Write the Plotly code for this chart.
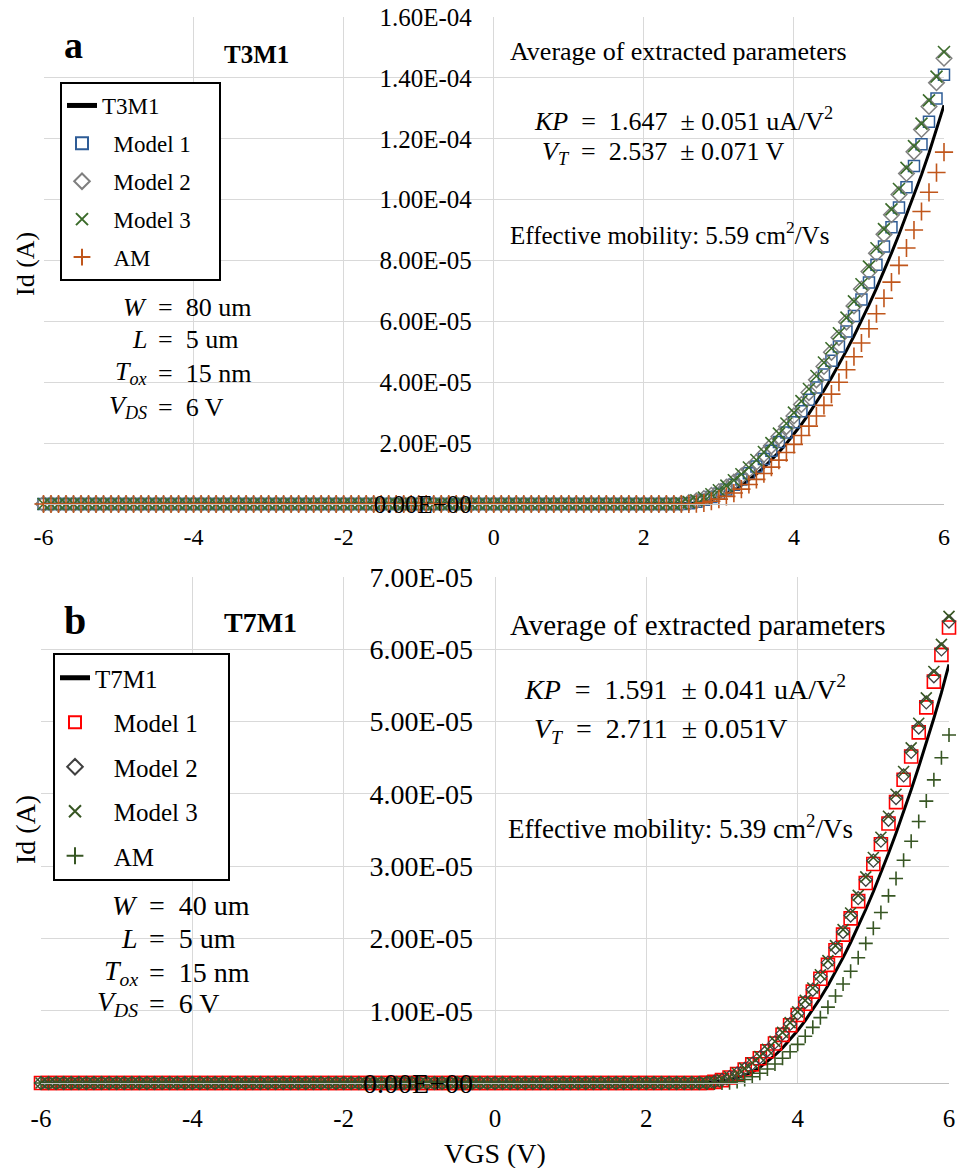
import plotly.graph_objects as go

FONT = "Liberation Serif"
W, H = 965, 1168

# ---------------- data (Id in uA) ----------------
vgs_off = [
    -6.0, -5.9, -5.8, -5.7, -5.6, -5.5, -5.4, -5.3, -5.2, -5.1,
    -5.0, -4.9, -4.8, -4.7, -4.6, -4.5, -4.4, -4.3, -4.2, -4.1,
    -4.0, -3.9, -3.8, -3.7, -3.6, -3.5, -3.4, -3.3, -3.2, -3.1,
    -3.0, -2.9, -2.8, -2.7, -2.6, -2.5, -2.4, -2.3, -2.2, -2.1,
    -2.0, -1.9, -1.8, -1.7, -1.6, -1.5, -1.4, -1.3, -1.2, -1.1,
    -1.0, -0.9, -0.8, -0.7, -0.6, -0.5, -0.4, -0.3, -0.2, -0.1,
    0.0, 0.1, 0.2, 0.3, 0.4, 0.5, 0.6, 0.7, 0.8, 0.9,
    1.0, 1.1, 1.2, 1.3, 1.4, 1.5, 1.6, 1.7, 1.8, 1.9,
    2.0, 2.1, 2.2, 2.3,
]
id_off = [
    0, 0, 0, 0, 0, 0, 0, 0, 0, 0,
    0, 0, 0, 0, 0, 0, 0, 0, 0, 0,
    0, 0, 0, 0, 0, 0, 0, 0, 0, 0,
    0, 0, 0, 0, 0, 0, 0, 0, 0, 0,
    0, 0, 0, 0, 0, 0, 0, 0, 0, 0,
    0, 0, 0, 0, 0, 0, 0, 0, 0, 0,
    0, 0, 0, 0, 0, 0, 0, 0, 0, 0,
    0, 0, 0, 0, 0, 0, 0, 0, 0, 0,
    0, 0, 0, 0,
]
vgs_on = [
    2.4, 2.5, 2.6, 2.7, 2.8, 2.9, 3.0, 3.1, 3.2, 3.3,
    3.4, 3.5, 3.6, 3.7, 3.8, 3.9, 4.0, 4.1, 4.2, 4.3,
    4.4, 4.5, 4.6, 4.7, 4.8, 4.9, 5.0, 5.1, 5.2, 5.3,
    5.4, 5.5, 5.6, 5.7, 5.8, 5.9, 6.0,
]

# panel a : T3M1
a_meas = [0.02, 0.06, 0.15, 0.35, 0.75, 1.34, 2.21, 3.30, 4.61, 6.13,
          7.88, 9.84, 12.02, 14.42, 17.03, 19.87, 22.92, 26.19, 29.68, 33.38,
          37.31, 41.45, 45.81, 50.39, 55.18, 60.20, 65.43, 70.88, 76.55, 82.43,
          88.54, 94.86, 101.40, 108.16, 115.30, 123.00, 131.00]
a_m1 = [0, 0.03, 0.25, 0.70, 1.37, 2.27, 3.38, 4.73, 6.29, 8.08,
        10.10, 12.34, 14.80, 17.48, 20.39, 23.53, 26.88, 30.46, 34.27, 38.30,
        42.55, 47.03, 51.73, 56.65, 61.80, 67.17, 72.76, 78.58, 84.62, 90.89,
        97.38, 104.10, 111.03, 118.19, 125.58, 133.19, 141.02]
a_m2 = [0, 0.11, 0.45, 1.02, 1.81, 2.83, 4.07, 5.54, 7.23, 9.15,
        11.30, 13.67, 16.27, 19.10, 22.15, 25.43, 28.93, 32.66, 36.61, 40.79,
        45.20, 49.83, 54.69, 59.78, 65.09, 70.63, 76.39, 82.38, 88.59, 95.03,
        101.70, 108.59, 115.71, 123.06, 130.63, 138.43, 146.45]
a_m3 = [0.01, 0.20, 0.61, 1.25, 2.11, 3.20, 4.51, 6.04, 7.81, 9.79,
        12.00, 14.44, 17.10, 19.99, 23.10, 26.44, 30.00, 33.79, 37.80, 42.04,
        46.50, 51.18, 56.10, 61.23, 66.59, 72.18, 77.99, 84.03, 90.29, 96.78,
        103.49, 110.43, 117.59, 124.98, 132.59, 140.42, 148.49]
a_am = [0, 0, 0, 0.10, 0.40, 0.90, 1.60, 2.50, 3.60, 4.90,
        6.40, 8.10, 10.00, 12.10, 14.40, 16.90, 19.60, 22.50, 25.60, 28.90,
        32.40, 36.10, 40.00, 44.10, 48.40, 52.90, 57.60, 62.50, 67.60, 72.90,
        78.40, 84.10, 90.00, 96.10, 102.40, 108.90, 115.60]

# panel b : T7M1
b_meas = [0, 0, 0, 0.02, 0.06, 0.15, 0.25, 0.45, 0.72, 1.08,
          1.50, 2.16, 2.94, 3.84, 4.86, 6.00, 7.26, 8.64, 10.14, 11.76,
          13.50, 15.36, 17.34, 19.44, 21.66, 24.00, 26.46, 29.04, 31.74, 34.56,
          37.50, 40.56, 43.74, 47.04, 50.46, 54.00, 57.90]
b_m1 = [0, 0, 0, 0, 0.02, 0.15, 0.40, 0.77, 1.25, 1.86,
        2.58, 3.43, 4.39, 5.47, 6.66, 7.98, 9.41, 10.97, 12.64, 14.43,
        16.34, 18.37, 20.52, 22.78, 25.16, 27.67, 30.29, 33.03, 35.89, 38.86,
        41.96, 45.17, 48.50, 51.96, 55.53, 59.22, 63.02]
b_m2 = [0, 0, 0, 0, 0.03, 0.17, 0.44, 0.82, 1.32, 1.94,
        2.68, 3.54, 4.52, 5.62, 6.84, 8.17, 9.63, 11.21, 12.90, 14.72,
        16.65, 18.70, 20.88, 23.17, 25.58, 28.11, 30.76, 33.53, 36.42, 39.43,
        42.56, 45.81, 49.17, 52.66, 56.27, 59.99, 63.84]
b_m3 = [0, 0, 0, 0, 0.04, 0.19, 0.47, 0.87, 1.38, 2.02,
        2.77, 3.65, 4.65, 5.76, 7.00, 8.35, 9.83, 11.43, 13.14, 14.98,
        16.93, 19.01, 21.21, 23.52, 25.96, 28.51, 31.19, 33.99, 36.90, 39.94,
        43.09, 46.37, 49.77, 53.28, 56.92, 60.67, 64.55]
b_am = [0, 0, 0, 0, 0, 0, 0, 0.05, 0.21, 0.48,
        0.86, 1.34, 1.93, 2.62, 3.42, 4.33, 5.35, 6.47, 7.70, 9.04,
        10.49, 12.04, 13.70, 15.46, 17.33, 19.31, 21.40, 23.59, 25.89, 28.30,
        30.82, 33.44, 36.17, 39.00, 41.94, 44.99, 48.15]

x_tick_vals = [-6, -4, -2, 0, 2, 4, 6]
x_tick_text = ["-6", "-4", "-2", "0", "2", "4", "6"]
a_y_tick_vals = [0, 2e-5, 4e-5, 6e-5, 8e-5, 1e-4, 1.2e-4, 1.4e-4, 1.6e-4]
a_y_tick_text = ["0.00E+00", "2.00E-05", "4.00E-05", "6.00E-05", "8.00E-05",
                 "1.00E-04", "1.20E-04", "1.40E-04", "1.60E-04"]
b_y_tick_vals = [0, 1e-5, 2e-5, 3e-5, 4e-5, 5e-5, 6e-5, 7e-5]
b_y_tick_text = ["0.00E+00", "1.00E-05", "2.00E-05", "3.00E-05", "4.00E-05",
                 "5.00E-05", "6.00E-05", "7.00E-05"]

vgs = vgs_off + vgs_on
NB = "\u00a0"


def amps(on_values):
    return [v * 1e-6 for v in id_off + on_values]


def px(x):
    return x / W


def py(y):
    return 1 - y / H


def lname(s, pre=2, post=4):
    return NB * pre + s + NB * post


fig = go.Figure()

# ---------- panel a traces ----------
fig.add_trace(go.Scatter(x=vgs, y=amps(a_meas), mode="lines", name=lname("T3M1", 0),
                         line=dict(color="black", width=3), xaxis="x", yaxis="y",
                         legend="legend", legendgroup="a1", cliponaxis=False))
fig.add_trace(go.Scatter(x=vgs, y=amps(a_m1), mode="markers", name=lname("Model 1"),
                         marker=dict(symbol="square-open", size=11, color="#2E5C96",
                                     line=dict(width=1.5, color="#2E5C96")),
                         xaxis="x", yaxis="y", legend="legend", legendgroup="a2",
                         cliponaxis=False))
fig.add_trace(go.Scatter(x=vgs, y=amps(a_m2), mode="markers", name=lname("Model 2"),
                         marker=dict(symbol="diamond-open", size=12, color="#7F7F7F",
                                     line=dict(width=1.5, color="#7F7F7F")),
                         xaxis="x", yaxis="y", legend="legend", legendgroup="a3",
                         cliponaxis=False))
fig.add_trace(go.Scatter(x=vgs, y=amps(a_m3), mode="markers", name=lname("Model 3"),
                         marker=dict(symbol="x-thin-open", size=12, color="#3B6B2A",
                                     line=dict(width=1.6, color="#3B6B2A")),
                         xaxis="x", yaxis="y", legend="legend", legendgroup="a4",
                         cliponaxis=False))
fig.add_trace(go.Scatter(x=vgs, y=amps(a_am), mode="markers", name=lname("AM"),
                         marker=dict(symbol="cross-thin-open", size=13, color="#C0561B",
                                     line=dict(width=1.6, color="#C0561B")),
                         xaxis="x", yaxis="y", legend="legend", legendgroup="a5",
                         cliponaxis=False))

# ---------- panel b traces ----------
fig.add_trace(go.Scatter(x=vgs, y=amps(b_meas), mode="lines", name=lname("T7M1", 0),
                         line=dict(color="black", width=3), xaxis="x2", yaxis="y2",
                         legend="legend2", legendgroup="b1", cliponaxis=False))
fig.add_trace(go.Scatter(x=vgs, y=amps(b_m1), mode="markers", name=lname("Model 1", 3),
                         marker=dict(symbol="square-open", size=13, color="#FF0000",
                                     line=dict(width=1.6, color="#FF0000")),
                         xaxis="x2", yaxis="y2", legend="legend2", legendgroup="b2",
                         cliponaxis=False))
fig.add_trace(go.Scatter(x=vgs, y=amps(b_m2), mode="markers", name=lname("Model 2", 3),
                         marker=dict(symbol="diamond-open", size=10, color="#404040",
                                     line=dict(width=1.3, color="#404040")),
                         xaxis="x2", yaxis="y2", legend="legend2", legendgroup="b3",
                         cliponaxis=False))
fig.add_trace(go.Scatter(x=vgs, y=amps(b_m3), mode="markers", name=lname("Model 3", 3),
                         marker=dict(symbol="x-thin-open", size=11, color="#375623",
                                     line=dict(width=1.6, color="#375623")),
                         xaxis="x2", yaxis="y2", legend="legend2", legendgroup="b4",
                         cliponaxis=False))
fig.add_trace(go.Scatter(x=vgs, y=amps(b_am), mode="markers", name=lname("AM", 3),
                         marker=dict(symbol="cross-thin-open", size=10, color="#375623",
                                     line=dict(width=1.6, color="#375623")),
                         xaxis="x2", yaxis="y2", legend="legend2", legendgroup="b5",
                         cliponaxis=False))

GRID = "#D9D9D9"
AXL = "#BFBFBF"


def xaxis_cfg(domain, anchor, size, standoff):
    return dict(domain=domain, anchor=anchor, range=[-6, 6], automargin=False,
                tickmode="array", tickvals=x_tick_vals, ticktext=x_tick_text,
                showgrid=True, gridcolor=GRID, gridwidth=1, zeroline=False,
                showline=True, linecolor=AXL, linewidth=1, ticks="",
                ticklabelstandoff=standoff,
                tickfont=dict(family=FONT, size=size, color="black"))


def yaxis_cfg(domain, position, rng, vals, text, size):
    return dict(domain=domain, anchor="free", position=position, range=rng,
                automargin=False,
                tickmode="array", tickvals=vals, ticktext=text,
                showgrid=True, gridcolor=GRID, gridwidth=1, zeroline=False,
                showline=False, ticks="", ticklabelstandoff=22,
                tickfont=dict(family=FONT, size=size, color="black"))


fig.update_layout(
    width=W, height=H,
    margin=dict(l=0, r=0, t=0, b=0, autoexpand=False),
    paper_bgcolor="white", plot_bgcolor="white",
    font=dict(family=FONT, color="black"),
    xaxis=xaxis_cfg([px(43.5), px(944)], "y", 24, 11),
    yaxis=yaxis_cfg([py(504), py(17)], px(493.75), [0, 1.6e-4],
                    a_y_tick_vals, a_y_tick_text, 25),
    xaxis2=xaxis_cfg([px(41), px(949)], "y2", 25, 13),
    yaxis2=yaxis_cfg([py(1083), py(577)], px(495), [0, 7e-5],
                     b_y_tick_vals, b_y_tick_text, 28),
    legend=dict(x=px(60), y=py(82), xanchor="left", yanchor="top",
                bgcolor="white", bordercolor="black", borderwidth=2,
                font=dict(family=FONT, size=23, color="black"),
                tracegroupgap=5, itemsizing="constant"),
    legend2=dict(x=px(53), y=py(653), xanchor="left", yanchor="top",
                 bgcolor="white", bordercolor="black", borderwidth=2,
                 font=dict(family=FONT, size=25, color="black"),
                 tracegroupgap=9, itemsizing="constant"),
    showlegend=True,
)


def ann(text, x, y, size, xanchor="left", angle=0):
    fig.add_annotation(text=text, x=px(x), y=py(y), xref="paper", yref="paper",
                       xanchor=xanchor, yanchor="middle", showarrow=False,
                       textangle=angle,
                       font=dict(family=FONT, size=size, color="black"))


# panel a texts
ann("<b>a</b>", 62, 45, 38)
ann("<b>T3M1</b>", 256, 54, 25, xanchor="center")
ann("Average of extracted parameters", 508, 52, 26)
ann("<i>KP</i>  =  1.647  ± 0.051 uA/V<sup>2</sup>", 532, 120, 26)
ann("<i>V<sub>T</sub></i>  =  2.537  ± 0.071 V", 540, 153, 26)
ann("Effective mobility: 5.59 cm<sup>2</sup>/Vs", 508, 233, 25)
for lbl, rhs, yy in [("<i>W</i>", "=  80 um", 307), ("<i>L</i>", "=  5 um", 340),
                     ("<i>T<sub>ox</sub></i>", "=  15 nm", 373),
                     ("<i>V<sub>DS</sub></i>", "=  6 V", 407)]:
    ann(lbl, 149, yy, 26, xanchor="right")
    ann(rhs, 156, yy, 26)
ann("Id (A)", 25, 264, 26, xanchor="center", angle=-90)

# panel b texts
ann("<b>b</b>", 62, 620, 40)
ann("<b>T7M1</b>", 260, 622, 28, xanchor="center")
ann("Average of extracted parameters", 508, 625, 29)
ann("<i>KP</i>  =  1.591  ± 0.041 uA/V<sup>2</sup>", 522, 687, 28)
ann("<i>V<sub>T</sub></i>  =  2.711  ± 0.051V", 532, 730, 28)
ann("Effective mobility: 5.39 cm<sup>2</sup>/Vs", 506, 827, 27)
for lbl, rhs, yy in [("<i>W</i>", "=  40 um", 905), ("<i>L</i>", "=  5 um", 938),
                     ("<i>T<sub>ox</sub></i>", "=  15 nm", 972),
                     ("<i>V<sub>DS</sub></i>", "=  6 V", 1003)]:
    ann(lbl, 140, yy, 28, xanchor="right")
    ann(rhs, 147, yy, 28)
ann("Id (A)", 25, 830, 28, xanchor="center", angle=-90)
ann("VGS (V)", 495, 1153, 28, xanchor="center")

fig.write_html("out.html")
